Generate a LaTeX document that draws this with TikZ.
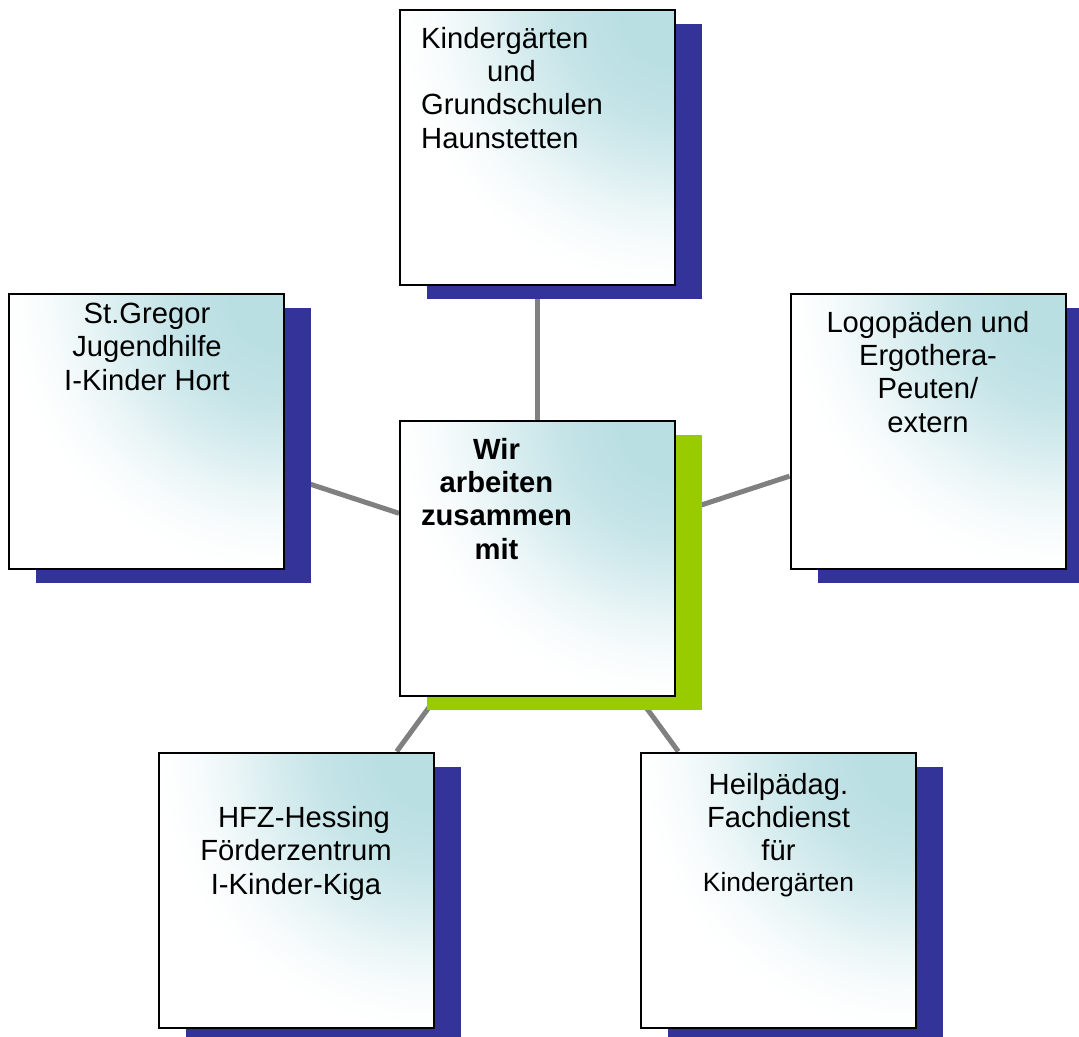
\documentclass[tikz,border=0pt]{standalone}
\usepackage{fontspec}
\setmainfont{Liberation Sans}
\usetikzlibrary{positioning,shadows}
\pgfdeclarelayer{bg}
\pgfsetlayers{bg,main}
\definecolor{boxteal}{RGB}{186,223,227}
\definecolor{shadowblue}{RGB}{51,51,153}
\definecolor{shadowgreen}{RGB}{153,204,0}
\definecolor{linkgrey}{RGB}{128,128,128}
\pgfdeclareradialshading{cornerfade}{\pgfpoint{0bp}{0bp}}{color(0bp)=(boxteal); color(5bp)=(boxteal); color(10bp)=(boxteal!85!white); color(14bp)=(boxteal!60!white); color(18bp)=(boxteal!30!white); color(21bp)=(boxteal!12!white); color(23.5bp)=(boxteal!3!white); color(25bp)=(white); color(50bp)=(white)}

\begin{document}
\begin{tikzpicture}[
			x = 1bp, y = -1bp,
			box/.style = {draw=black, line width=2bp, fill=white, inner sep=0pt,
				minimum width=275bp, minimum height=275bp,
				path picture={\shade[shading=cornerfade] (path picture bounding box.north east) circle (280bp);},
				drop shadow={shadow xshift=27bp, shadow yshift=-14bp, fill=#1, opacity=1}},
			box/.default = shadowblue,
			txt/.style = {font=\fontsize{29.2bp}{33.3bp}\selectfont, align=center, anchor=base, inner sep=0pt},
			link/.style = {draw=linkgrey, line width=5bp}]
			\useasboundingbox (0,0) rectangle (1079,1037);

			\node[box] (kiga) at (537.5,147.5) {};
			\node[box] (gregor) at (146.5,431) {};
			\node[box] (logo) at (928,431) {};
			\node[box=shadowgreen] (hub) at (537.5,558.5) {};
			\node[box] (hessing) at (296.5,890) {};
			\node[box] (fachdienst) at (778.5,890) {};

			\begin{pgfonlayer}{bg}
				\foreach \n in {kiga,gregor,logo,hessing,fachdienst}
					\draw[link] (hub) -- (\n);
			\end{pgfonlayer}

			% base = last line
			\node[txt, align=left, anchor=base west] (kiga-txt) at (421,148) {Kindergärten\\\hspace*{66bp}und\\Grundschulen\\Haunstetten};
			\node[txt] (gregor-txt) at (147,390) {St.Gregor\\Jugendhilfe\\I-Kinder Hort};
			\node[txt] (logo-txt) at (928,432) {Logopäden und\\Ergothera-\\Peuten/\\extern};
			\node[txt, font=\fontsize{29.2bp}{33.3bp}\selectfont\bfseries] (hub-txt) at (496.5,559) {Wir\\arbeiten\\zusammen\\mit};
			\node[txt] (hessing-txt) at (296,894) {\hspace*{16bp}HFZ-Hessing\\Förderzentrum\\I-Kinder-Kiga};
			\node[txt] (fachdienst-txt) at (778.5,891) {Heilpädag.\\Fachdienst\\für\\[-3bp]{\fontsize{26.4bp}{30bp}\selectfont Kindergärten}};

		\end{tikzpicture}
\end{document}
